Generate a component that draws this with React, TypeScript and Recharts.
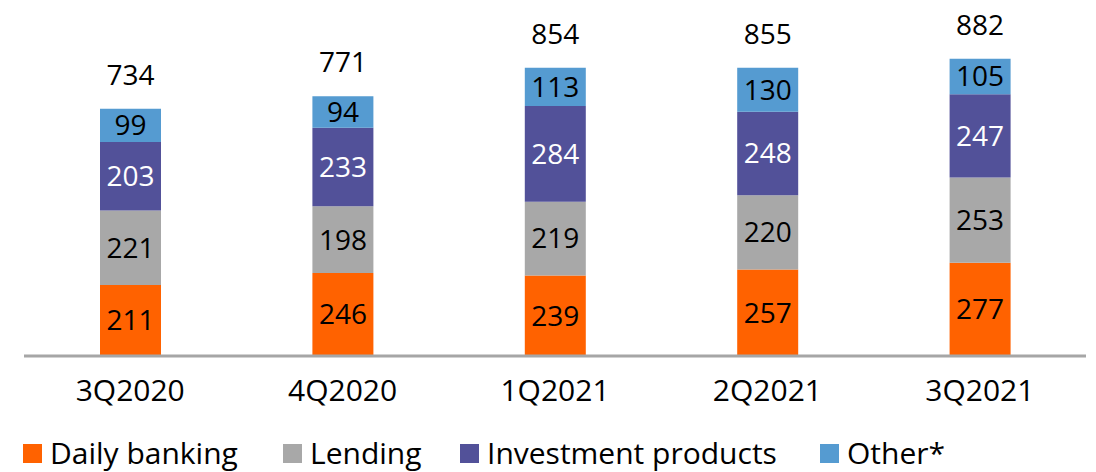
import React from 'react';
import { BarChart, Bar, XAxis, YAxis, LabelList, Legend } from 'recharts';

const quarters = ['3Q2020', '4Q2020', '1Q2021', '2Q2021', '3Q2021'];
const dailyBanking = [211, 246, 239, 257, 277];
const lending = [221, 198, 219, 220, 253];
const investmentProducts = [203, 233, 284, 248, 247];
const other = [99, 94, 113, 130, 105];
const totals = [734, 771, 854, 855, 882];

const seriesNames = ['Daily banking', 'Lending', 'Investment products', 'Other*'];
const seriesColors = ['#FF6200', '#A8A8A8', '#525199', '#559BD1'];
const legendX = [23, 283, 460, 820];

const data = quarters.map((q, i) => ({
  q,
  daily: dailyBanking[i],
  lending: lending[i],
  invest: investmentProducts[i],
  other: other[i],
  total: totals[i],
}));

const FONT = '"Open Sans", "Noto Sans", sans-serif';

const LegendContent = () => (
  <div
    style={{
      height: 58,
      position: 'relative',
      width: 1096,
      fontFamily: FONT,
      fontSize: 30,
      color: '#000',
    }}
  >
    {seriesNames.map((n, i) => (
      <div
        key={n}
        style={{ position: 'absolute', left: legendX[i], top: 20, height: 38, display: 'flex', alignItems: 'center' }}
      >
        <div style={{ width: 19, height: 19, background: seriesColors[i], marginRight: 8 }} />
        <span style={{ lineHeight: '38px', whiteSpace: 'nowrap' }}>{n}</span>
      </div>
    ))}
  </div>
);

const labelStyle = { fontFamily: FONT, fontSize: 28 };

export default function App() {
  return (
    <div style={{ position: 'absolute', left: 0, top: 0, background: '#fff' }}>
      <BarChart
        width={1096}
        height={472}
        data={data}
        margin={{ top: 19, right: 10, bottom: 0, left: 24 }}
        barCategoryGap={0}
      >
        <XAxis
          dataKey="q"
          axisLine={{ stroke: '#A6A6A6', strokeWidth: 3 }}
          tickLine={false}
          tickMargin={18}
          height={58}
          interval={0}
          tick={{ fill: '#000', fontFamily: FONT, fontSize: 30 }}
        />
        <YAxis hide domain={[0, 1000]} />
        <Legend verticalAlign="bottom" content={<LegendContent />} wrapperStyle={{ left: 0, bottom: 0, width: 1096 }} />
        <Bar dataKey="daily" stackId="a" fill={seriesColors[0]} barSize={61} isAnimationActive={false}>
          <LabelList dataKey="daily" position="center" fill="#000" style={labelStyle} />
        </Bar>
        <Bar dataKey="lending" stackId="a" fill={seriesColors[1]} barSize={61} isAnimationActive={false}>
          <LabelList dataKey="lending" position="center" fill="#000" style={labelStyle} />
        </Bar>
        <Bar dataKey="invest" stackId="a" fill={seriesColors[2]} barSize={61} isAnimationActive={false}>
          <LabelList dataKey="invest" position="center" fill="#fff" style={labelStyle} />
        </Bar>
        <Bar dataKey="other" stackId="a" fill={seriesColors[3]} barSize={61} isAnimationActive={false}>
          <LabelList dataKey="other" position="center" fill="#000" style={labelStyle} />
          <LabelList dataKey="total" position="top" offset={24} fill="#000" style={labelStyle} />
        </Bar>
      </BarChart>
    </div>
  );
}
